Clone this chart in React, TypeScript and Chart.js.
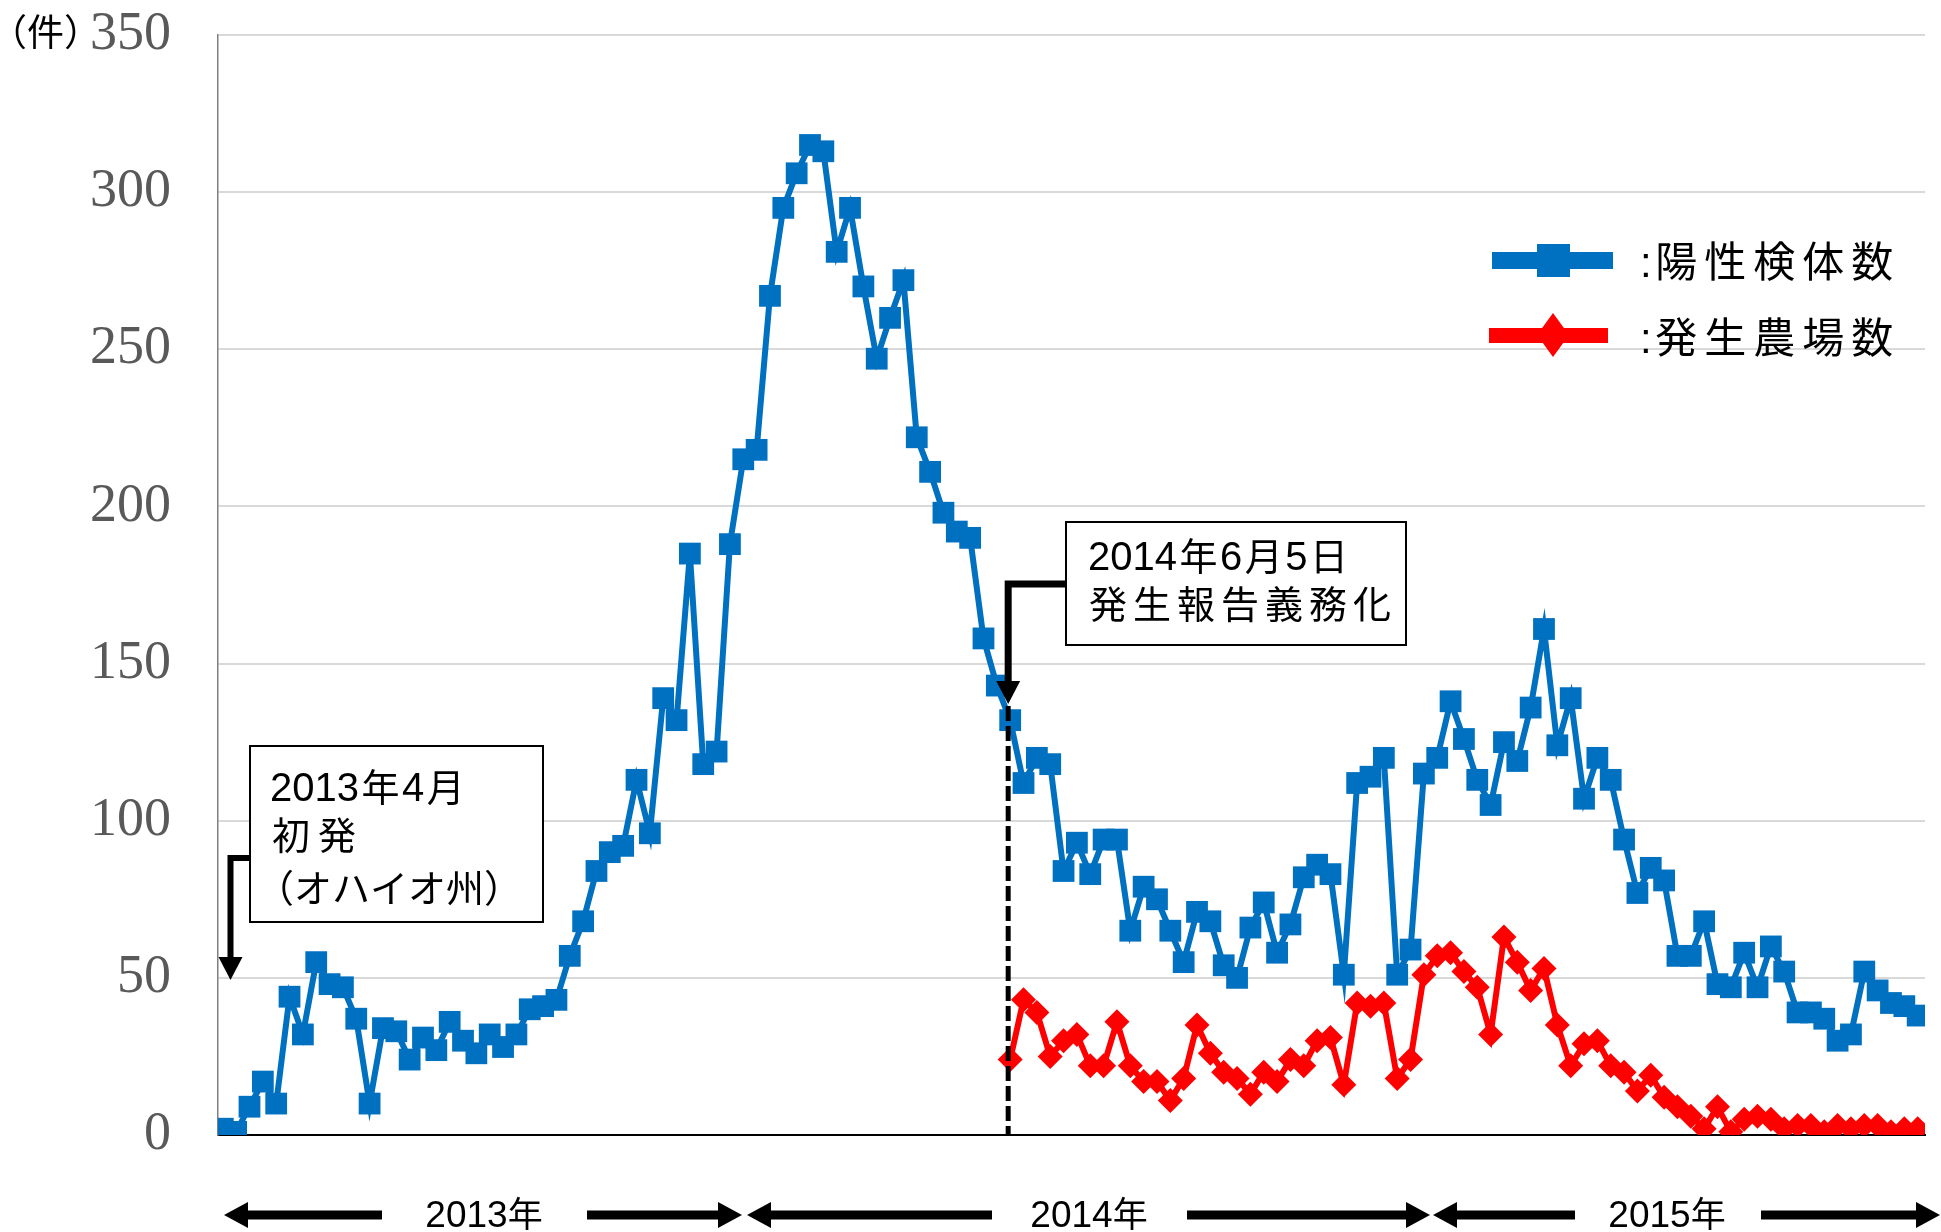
import React, { useEffect, useRef } from 'react';
import { Chart, registerables } from 'chart.js';

Chart.register(...registerables);

// 陽性検体数 (weekly positive samples), from first week of April 2013
const positiveSamples = [
  2, 1, 9, 17, 10, 44, 32, 55, 48, 47,
  37, 10, 34, 33, 24, 31, 27, 36, 30, 26,
  32, 28, 32, 40, 41, 43, 57, 68, 84, 90,
  92, 113, 96, 139, 132, 185, 118, 122, 188, 215,
  218, 267, 295, 306, 315, 313, 281, 295, 270, 247,
  260, 272, 222, 211, 198, 192, 190, 158, 143, 132,
  112, 120, 118, 84, 93, 83, 94, 94, 65, 79,
  75, 65, 55, 71, 68, 54, 50, 66, 74, 58,
  67, 82, 86, 83, 51, 112, 114, 120, 51, 59,
  115, 120, 138, 126, 113, 105, 125, 119, 136, 161,
  124, 139, 107, 120, 113, 94, 77, 85, 81, 57,
  57, 68, 48, 47, 58, 47, 60, 52, 39, 39,
  37, 30, 32, 52, 46, 42, 41, 38,
];

// 発生農場数 (weekly infected farms), reported from the week of 2014-06-05
const farmStartIndex = 59;
const farmCounts = [
  24, 43, 39, 25, 30, 32, 22, 22, 36, 22,
  17, 17, 11, 18, 35, 26, 20, 18, 13, 20,
  17, 24, 22, 30, 31, 16, 42, 41, 42, 18,
  24, 51, 57, 58, 52, 47, 32, 63, 55, 46,
  53, 35, 22, 29, 30, 22, 20, 14, 19, 12,
  9, 6, 2, 9, 1, 5, 6, 5, 2, 3,
  3, 1, 3, 2, 3, 3, 1, 2, 2,
];

const yMin = 0;
const yMax = 350;
const yStep = 50;
const unitLabel = '（件）';
const legendLabels = [':陽性検体数', ':発生農場数'];
const yearLabels = ['2013年', '2014年', '2015年'];
const note1Lines = ['2013年4月', '初発', '（オハイオ州）'];
const note2Lines = ['2014年6月5日', '発生報告義務化'];

const BLUE = '#0070C0';
const RED = '#FF0000';
const LATIN = '"Liberation Sans", Arial, sans-serif';
const CJK = '"Noto Sans CJK JP", sans-serif';

function drawMixed(
  ctx: CanvasRenderingContext2D,
  text: string,
  x: number,
  y: number,
  latinSize: number,
  cjkSize: number,
  cjkGap: number,
  align: 'left' | 'center' = 'left'
) {
  const parts = [...text].map((ch) => {
    const cjk = ch.charCodeAt(0) > 0x7f;
    const font = cjk ? `${cjkSize}px ${CJK}` : `${latinSize}px ${LATIN}`;
    ctx.font = font;
    const w = ctx.measureText(ch).width + (cjk ? cjkGap : 0);
    return { ch, cjk, w, font };
  });
  const total = parts.reduce((a, p) => a + p.w, 0);
  let cx = align === 'center' ? x - total / 2 : x;
  ctx.textAlign = 'left';
  ctx.textBaseline = 'alphabetic';
  for (const p of parts) {
    ctx.font = p.font;
    ctx.fillText(p.ch, cx + (p.cjk ? cjkGap / 2 : 0), y);
    cx += p.w;
  }
}

function hArrow(ctx: CanvasRenderingContext2D, xFrom: number, xTip: number, y: number) {
  const dir = xTip > xFrom ? 1 : -1;
  const headLen = 24;
  const headHalf = 13;
  ctx.fillStyle = '#000';
  ctx.fillRect(Math.min(xFrom, xTip - dir * headLen), y - 4.5, Math.abs(xTip - dir * headLen - xFrom) + 1, 9);
  ctx.beginPath();
  ctx.moveTo(xTip, y);
  ctx.lineTo(xTip - dir * headLen, y - headHalf);
  ctx.lineTo(xTip - dir * headLen, y + headHalf);
  ctx.closePath();
  ctx.fill();
}

function downArrowHead(ctx: CanvasRenderingContext2D, x: number, yTip: number) {
  ctx.fillStyle = '#000';
  ctx.beginPath();
  ctx.moveTo(x, yTip);
  ctx.lineTo(x - 12, yTip - 23);
  ctx.lineTo(x + 12, yTip - 23);
  ctx.closePath();
  ctx.fill();
}

const annotationPlugin = {
  id: 'annotations',
  afterDraw(chart: any) {
    const ctx: CanvasRenderingContext2D = chart.ctx;
    const xs = chart.scales.x;
    const ys = chart.scales.y;
    ctx.save();

    // unit label
    ctx.fillStyle = '#000';
    ctx.font = `37px ${CJK}`;
    ctx.textAlign = 'left';
    ctx.textBaseline = 'alphabetic';
    ctx.fillText(unitLabel, -10, 46);

    // --- note 1: first outbreak
    const ax1 = 230.5;
    ctx.strokeStyle = '#000';
    ctx.lineWidth = 6;
    ctx.beginPath();
    ctx.moveTo(252, 858);
    ctx.lineTo(ax1, 858);
    ctx.lineTo(ax1, 960);
    ctx.stroke();
    downArrowHead(ctx, ax1, 980);

    ctx.fillStyle = '#fff';
    ctx.fillRect(250, 746, 293, 176);
    ctx.strokeStyle = '#000';
    ctx.lineWidth = 2;
    ctx.strokeRect(250, 746, 293, 176);
    ctx.fillStyle = '#000';
    drawMixed(ctx, note1Lines[0], 270, 801, 40, 38, 5);
    drawMixed(ctx, note1Lines[1], 268, 849, 40, 38, 8);
    drawMixed(ctx, note1Lines[2], 256, 902, 40, 38, 0);

    // --- note 2: mandatory reporting
    const ax2 = xs.getPixelForValue(farmStartIndex) - 2;
    ctx.strokeStyle = '#000';
    ctx.lineWidth = 7;
    ctx.beginPath();
    ctx.moveTo(1068, 584);
    ctx.lineTo(ax2, 584);
    ctx.lineTo(ax2, 684);
    ctx.stroke();
    downArrowHead(ctx, ax2, 704);

    ctx.lineWidth = 5;
    ctx.setLineDash([15, 5]);
    ctx.beginPath();
    ctx.moveTo(ax2, 706);
    ctx.lineTo(ax2, ys.getPixelForValue(0));
    ctx.stroke();
    ctx.setLineDash([]);

    ctx.fillStyle = '#fff';
    ctx.fillRect(1066, 522, 340, 123);
    ctx.strokeStyle = '#000';
    ctx.lineWidth = 2;
    ctx.strokeRect(1066, 522, 340, 123);
    ctx.fillStyle = '#000';
    drawMixed(ctx, note2Lines[0], 1088, 570, 40, 38, 5);
    drawMixed(ctx, note2Lines[1], 1086, 618, 40, 38, 6);

    // --- legend
    ctx.fillStyle = BLUE;
    ctx.fillRect(1492, 252, 121, 17);
    ctx.fillRect(1537, 244, 33, 33);
    ctx.fillStyle = RED;
    ctx.fillRect(1489, 328, 119, 15);
    ctx.beginPath();
    ctx.moveTo(1553, 313);
    ctx.lineTo(1569, 335);
    ctx.lineTo(1553, 357);
    ctx.lineTo(1537, 335);
    ctx.closePath();
    ctx.fill();
    ctx.fillStyle = '#000';
    drawMixed(ctx, legendLabels[0], 1640, 277, 42, 42, 7);
    drawMixed(ctx, legendLabels[1], 1640, 353, 42, 42, 7);

    // --- year arrows
    const ay = 1215;
    hArrow(ctx, 381, 224, ay);
    hArrow(ctx, 587, 742, ay);
    hArrow(ctx, 991, 747, ay);
    hArrow(ctx, 1187, 1430, ay);
    hArrow(ctx, 1574, 1433, ay);
    hArrow(ctx, 1761, 1940, ay);
    ctx.fillStyle = '#000';
    drawMixed(ctx, yearLabels[0], 484, 1227, 37, 35, 0, 'center');
    drawMixed(ctx, yearLabels[1], 1089, 1227, 37, 35, 0, 'center');
    drawMixed(ctx, yearLabels[2], 1667, 1227, 37, 35, 0, 'center');

    ctx.restore();
  },
};

export default function App() {
  const canvasRef = useRef<HTMLCanvasElement | null>(null);

  useEffect(() => {
    const canvas = canvasRef.current;
    if (!canvas) return;
    const farmData = farmCounts.map((v, i) => ({ x: i + farmStartIndex, y: v }));
    const chart = new Chart(canvas, {
      type: 'line',
      data: {
        datasets: [
          {
            label: '発生農場数',
            data: farmData,
            borderColor: RED,
            backgroundColor: RED,
            borderWidth: 6,
            pointStyle: 'rectRot',
            pointRadius: 12.5,
            pointBorderWidth: 0,
            pointBackgroundColor: RED,
            tension: 0,
          },
          {
            label: '陽性検体数',
            data: positiveSamples.map((v, i) => ({ x: i, y: v })),
            borderColor: BLUE,
            backgroundColor: BLUE,
            borderWidth: 6,
            pointStyle: 'rect',
            pointRadius: 15.4,
            pointBorderWidth: 0,
            pointBackgroundColor: BLUE,
            tension: 0,
          },
        ],
      },
      options: {
        animation: false,
        responsive: false,
        maintainAspectRatio: false,
        layout: { padding: { top: 35, right: 16, bottom: 97, left: 0 } },
        plugins: {
          legend: { display: false },
          tooltip: { enabled: false },
        },
        scales: {
          x: {
            type: 'linear',
            min: -0.36,
            max: positiveSamples.length - 1 + 0.55,
            grid: { display: false },
            ticks: { display: false },
            border: { color: '#000', width: 2 },
            afterFit: (s: any) => {
              s.height = 0;
              s.paddingLeft = 0;
              s.paddingRight = 0;
            },
          },
          y: {
            min: yMin,
            max: yMax,
            ticks: {
              stepSize: yStep,
              font: { family: '"Liberation Serif", "Times New Roman", serif', size: 54 },
              color: '#595959',
              padding: 47,
            },
            grid: { color: '#d9d9d9', lineWidth: 2, drawTicks: false },
            border: { color: '#7f7f7f', width: 1.5 },
            afterFit: (s: any) => {
              s.width = 218;
              s.paddingTop = 0;
              s.paddingBottom = 0;
            },
          },
        },
      },
      plugins: [annotationPlugin],
    } as any);
    return () => chart.destroy();
  }, []);

  return (
    <div style={{ position: 'fixed', left: 0, top: 0, width: 1941, height: 1232, background: '#fff' }}>
      <canvas ref={canvasRef} width={1941} height={1232} style={{ display: 'block' }} />
    </div>
  );
}
